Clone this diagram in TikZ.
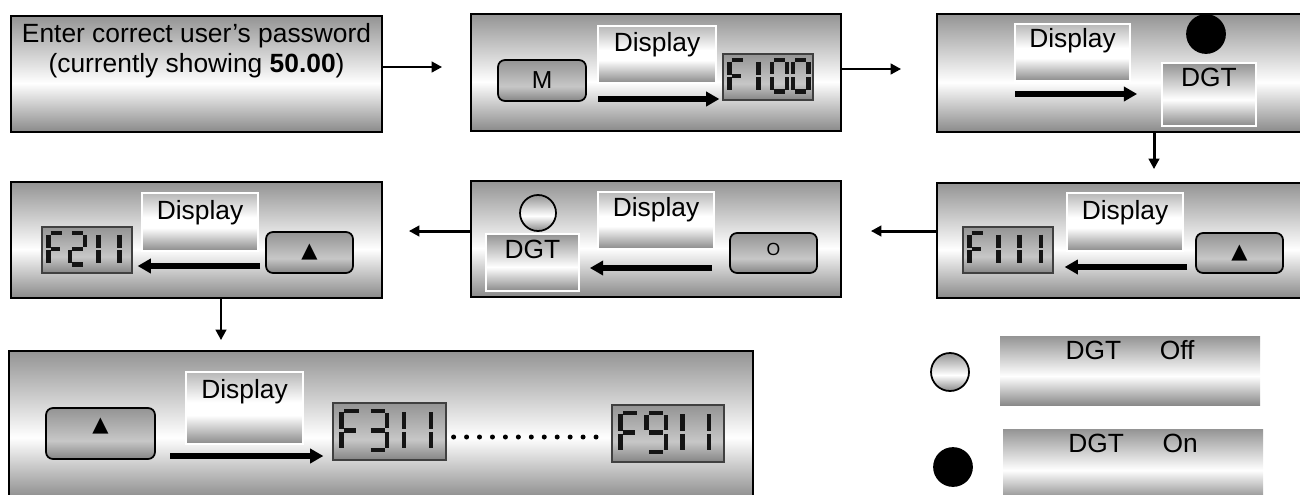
\documentclass[tikz,border=0pt]{standalone}
\usepackage{fontspec}
\setmainfont{Liberation Sans}
\newfontfamily\trifont{DejaVu Sans}
\usetikzlibrary{
	arrows.meta,
	calc
}
\definecolor{ptop}{gray}{0.58}
\definecolor{pbot}{gray}{0.54}
\definecolor{dtop}{gray}{0.72}
\definecolor{btop}{gray}{0.58}
\definecolor{bmid}{gray}{0.78}
\definecolor{bbot}{gray}{0.52}
\pgfdeclareverticalshading{panel}{100bp}{color(0bp)=(pbot); color(25bp)=(pbot); color(46bp)=(white); color(75bp)=(ptop); color(100bp)=(ptop)}
\pgfdeclareverticalshading{screen}{100bp}{color(0bp)=(pbot); color(25bp)=(pbot); color(45bp)=(white); color(54bp)=(white); color(75bp)=(dtop); color(100bp)=(dtop)}
\pgfdeclareverticalshading{knob}{100bp}{color(0bp)=(bbot); color(25bp)=(bbot); color(43bp)=(bmid); color(75bp)=(btop); color(100bp)=(btop)}

% seven segment digits, cell 1 wide and 2 high
\def\digF{\draw[segment] (0,.08)--(0,.92) (0,1.08)--(0,1.92) (.14,0)--(.9,0) (.14,1)--(.75,1);}
\expandafter\def\csname dig0\endcsname{\draw[segment] (.14,0)--(.86,0) (1,.1)--(1,.9) (1,1.1)--(1,1.9) (.14,2)--(.86,2) (0,1.1)--(0,1.9) (0,.1)--(0,.9);}
\expandafter\def\csname dig1\endcsname{\draw[segment] (.5,.08)--(.5,.92) (.5,1.08)--(.5,1.92);}
\expandafter\def\csname dig2\endcsname{\draw[segment] (.14,0)--(.86,0) (1,.1)--(1,.9) (.14,1)--(.86,1) (0,1.1)--(0,1.9) (.14,2)--(.86,2);}
\expandafter\def\csname dig3\endcsname{\draw[segment] (.14,0)--(.86,0) (1,.1)--(1,.9) (.14,1)--(.86,1) (1,1.1)--(1,1.9) (.14,2)--(.86,2);}
\expandafter\def\csname dig9\endcsname{\draw[segment] (0,.1)--(0,.9) (.14,0)--(.86,0) (1,.1)--(1,.9) (.14,1)--(.86,1) (1,1.1)--(1,1.9) (.14,2)--(.86,2);}

% #1 lcd node, #2 width, #3 height (px), #4 digits
\newcommand\lcdshow[4]{%
	\foreach \d [count=\i from 0] in {#4}
		\pic[xscale=0.17*#2, yscale=0.34*#3]
			at ($(#1.north west)+({(0.08+0.235*\i)*#2},{0.15*#3})$) {digit=\d};}

\tikzset{
	wh/.style 2 args={minimum width=#1*0.02cm, minimum height=#2*0.02cm},
	panel/.style={draw=black, line width=1pt, shading=panel, inner sep=0pt},
	screen/.style={draw=white, line width=1pt, shading=screen, inner sep=0pt},
	dgt/.style={draw=white, line width=1pt, shading=panel, inner sep=0pt},
	legend/.style={shading=panel, inner sep=0pt},
	knob/.style={draw=black, line width=1pt, rounded corners=4pt, shading=knob, inner sep=0pt},
	lcd/.style={draw=black!75, line width=0.7pt, shading=knob, inner sep=0pt},
	lamp/.style={circle, draw=black, line width=1pt, inner sep=0pt, minimum size=#1*0.02cm},
	txt/.style={font=\fontsize{15}{17}\selectfont, inner sep=0pt},
	sym/.style={font=\trifont\fontsize{12}{14}\selectfont, inner sep=0pt},
	segment/.style={line width=2.5pt, black!92},
	flow/.style={line width=1.7pt, -{Triangle[length=6pt,width=6pt]}},
	push/.style={line width=3pt, -{Triangle[length=7.5pt,width=8pt]}},
	pics/digit/.style={code={\csname dig#1\endcsname}}
}

\begin{document}
\begin{tikzpicture}[x=0.02cm, y=-0.02cm]
	\useasboundingbox (0,0) rectangle (1300,494);
	\clip (0,0) rectangle (1300,494);

	% first row
	\node[panel, wh={371}{116}] (b1) at (196.5,74) {};
	\node[txt, align=center, anchor=north] (t1) at (196.5,23)
		{Enter correct user’s password\\(currently showing \textbf{50.00})};

	\node[panel, wh={370}{117}] (b2) at (656,72.5) {};
	\node[knob, wh={88}{41}, font=\fontsize{14}{16}\selectfont] (m2) at (542,80.5) {M};
	\node[screen, wh={118}{57}] (d2) at (657,54.5) {};
	\node[txt, anchor=base] (td2) at ([yshift=-.52cm]d2.north) {Display};
	\node[lcd, wh={90}{46}] (l2) at (768,77) {};

	\node[panel, wh={373}{118}] (b3) at (1123.5,73) {};
	\node[screen, wh={115}{57}] (d3) at (1072.5,52.5) {};
	\node[txt, anchor=base] (td3) at ([yshift=-.48cm]d3.north) {Display};
	\node[lamp=38, fill=black] (k3) at (1206,34) {};
	\node[dgt, wh={94}{63}] (g3) at (1209,94.5) {};
	\node[txt, anchor=base] (tg3) at ([yshift=-.48cm]g3.north) {DGT};

	% second row
	\node[panel, wh={373}{115}] (b4) at (1123.5,240.5) {};
	\node[screen, wh={116}{58}] (d4) at (1125,222) {};
	\node[txt, anchor=base] (td4) at ([yshift=-.54cm]d4.north) {Display};
	\node[lcd, wh={90}{46}] (l4) at (1008,250) {};
	\node[knob, wh={87}{40}, sym] (u4) at (1239.5,253) {▲};

	\node[panel, wh={370}{116}] (b5) at (656,239) {};
	\node[lamp=36, shading=panel] (k5) at (538,213) {};
	\node[dgt, wh={93}{57}] (g5) at (532.5,262.5) {};
	\node[txt, anchor=base] (tg5) at ([yshift=-.5cm]g5.north) {DGT};
	\node[screen, wh={116}{57}] (d5) at (656,220.5) {};
	\node[txt, anchor=base] (td5) at ([yshift=-.5cm]d5.north) {Display};
	\node[knob, wh={87}{40}] (o5) at (773.5,253) {};
	\node[font=\fontsize{10}{12}\selectfont, inner sep=0pt] (to5) at (773.5,249) {O};

	\node[panel, wh={371}{116}] (b6) at (196.5,240) {};
	\node[screen, wh={116}{58}] (d6) at (200,222) {};
	\node[txt, anchor=base] (td6) at ([yshift=-.54cm]d6.north) {Display};
	\node[lcd, wh={90}{46}] (l6) at (87,250) {};
	\node[knob, wh={87}{41}, sym] (u6) at (309.5,252.5) {▲};

	% last row
	\node[panel, wh={744}{149}] (b7) at (381,425.5) {};
	\node[knob, wh={109}{51}] (u7) at (100.5,433.5) {};
	\node[sym] (tu7) at (100.5,426.5) {▲};
	\node[screen, wh={117}{72}] (d7) at (244.5,408) {};
	\node[txt, anchor=base] (td7) at ([yshift=-.54cm]d7.north) {Display};
	\node[lcd, wh={113}{57}] (l7a) at (389.5,431.5) {};
	\node[lcd, wh={112}{57}] (l7b) at (668,433.5) {};

	% legend
	\node[lamp=38, shading=panel] (k8) at (950,372) {};
	\node[legend, wh={260}{69}] (e8) at (1130,370.5) {};
	\node[txt, anchor=base] (te8) at ([yshift=-.48cm]e8.north) {DGT\hspace{22pt}Off};
	\node[lamp=38, fill=black] (k9) at (953,467) {};
	\node[legend, wh={260}{71}] (e9) at (1133,464.5) {};
	\node[txt, anchor=base] (te9) at ([yshift=-.48cm]e9.north) {DGT\hspace{22pt}On};

	% lcd digits
	\lcdshow{l2}{90}{46}{F,1,0,0}
	\lcdshow{l4}{90}{46}{F,1,1,1}
	\lcdshow{l6}{90}{46}{F,2,1,1}
	\lcdshow{l7a}{113}{57}{F,3,1,1}
	\lcdshow{l7b}{112}{57}{F,9,1,1}

	% steps
	\coordinate (a1) at ([yshift=.14cm]b1.east);
	\coordinate (a2) at ([yshift=.07cm]b2.east);
	\coordinate (a3) at ([xshift=.61cm]b3.south);
	\coordinate (a4) at ([yshift=.19cm]b4.west);
	\coordinate (a5) at ([yshift=.16cm]b5.west);
	\coordinate (a6) at ([xshift=.49cm]b6.south);
	\draw[flow, shorten >=.56cm] (a1) -- (a1 -| b2.west);
	\draw[flow, shorten >=.7cm] (a2) -- (a2 -| b3.west);
	\draw[flow, shorten >=.26cm] (a3) -- (a3 |- b4.north);
	\draw[flow, shorten >=.58cm] (a4) -- (a4 -| b5.east);
	\draw[flow, shorten >=.52cm] (a5) -- (a5 -| b6.east);
	\draw[flow, shorten >=.2cm] (a6) -- (a6 |- b7.north);

	% key presses
	\coordinate (s2) at (598,99);
	\coordinate (s3) at (1015,94);
	\coordinate (s4) at (1187,267);
	\coordinate (s5) at (712,268);
	\coordinate (s6) at (260,266);
	\coordinate (s7) at (170,456);
	\draw[push, shorten >=.06cm] (s2) -- (s2 -| l2.west);
	\draw[push, shorten >=.48cm] (s3) -- (s3 -| g3.west);
	\draw[push, shorten >=.22cm] (s4) -- (s4 -| l4.east);
	\draw[push, shorten >=.2cm] (s5) -- (s5 -| g5.east);
	\draw[push, shorten >=.1cm] (s6) -- (s6 -| l6.east);
	\draw[push, shorten >=.18cm] (s7) -- (s7 -| l7a.west);

	\coordinate (a7) at ([yshift=-.11cm]l7a.east);
	\draw[line width=.1cm, line cap=round, dash pattern=on 0pt off .259cm,
		shorten <=.14cm, shorten >=.06cm] (a7) -- (a7 -| l7b.west);
\end{tikzpicture}
\end{document}
